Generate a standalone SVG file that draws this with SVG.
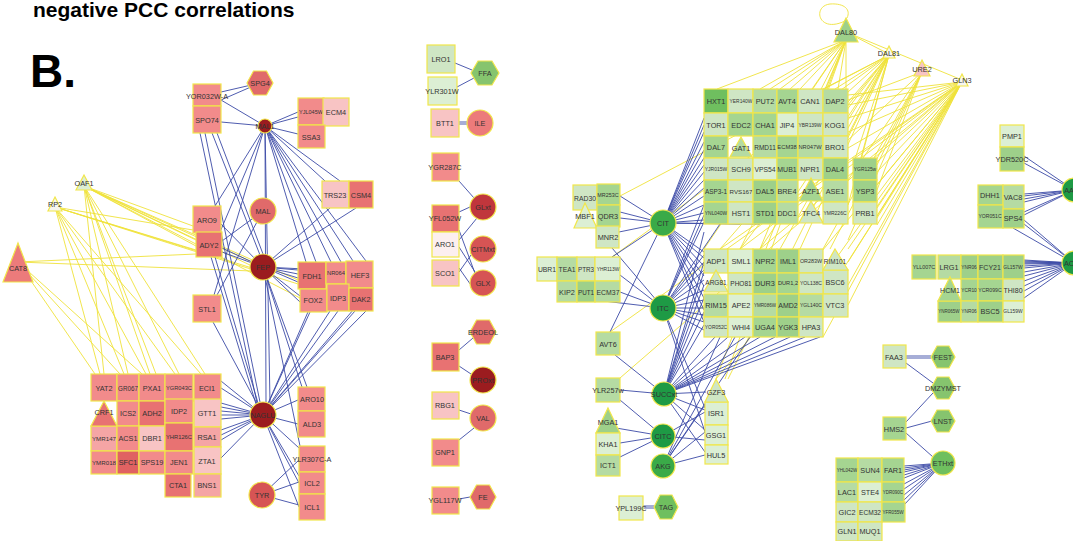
<svg xmlns="http://www.w3.org/2000/svg" width="1073" height="541" viewBox="0 0 1073 541">
<style>
text{font-family:"Liberation Sans",Arial,sans-serif;font-size:7.3px;fill:#333;text-anchor:middle;dominant-baseline:central}
.t1{font-size:21px;font-weight:bold;fill:#000;text-anchor:start;dominant-baseline:auto}
.t2{font-size:46px;font-weight:bold;fill:#000;text-anchor:start;dominant-baseline:auto}
.b{stroke:#3b4aa6;stroke-width:.9;fill:none}
.y{stroke:#efe23a;stroke-width:.9;fill:none}
.n rect,.n circle,.n polygon{stroke:#f1e64a;stroke-width:1.2}
.p1{fill:#f28b8b}.p2{fill:#e87272}.p3{fill:#f8c4c4}.p4{fill:#f5a5a5}.p5{fill:#fcefef}.p6{fill:#e06262}
.dr{fill:#9b1c1f}.r1{fill:#d65454}.r2{fill:#c0363c}.r3{fill:#e06a6a}.r4{fill:#ec7b7b}
.g1{fill:#cfe6c4}.g2{fill:#b5dba3}.g3{fill:#a5d591}.g4{fill:#9ed08a}.g5{fill:#6fbf5f}.g6{fill:#dcefd4}.g7{fill:#86c46e}.gc{fill:#1e9a45}.gm{fill:#3aaa48}.w{fill:#f6f6f0}
</style>
<rect width="1073" height="541" fill="#fff"/>
<text class="t1" x="33" y="17">negative PCC correlations</text>
<text class="t2" x="30" y="87">B.</text>

<g id="connectors">
<path class="y" d="M84,186 L252,262 M84,186 L252,266 M84,186 L298,280 M84,186 L300,298 M84,186 L196,240 M84,186 L196,246 M84,186 L193,226 M84,186 L104,374 M84,186 L128,374 M84,186 L150,374 M84,186 L156,374 M84,186 L179,374 M84,186 L205,374"/>
<path class="y" d="M55,207 L252,268 M55,207 L298,284 M55,207 L196,250 M55,207 L193,230 M55,207 L100,374 M55,207 L124,374 M55,207 L146,374 M55,207 L175,374 M55,207 L201,374"/>
<path class="y" d="M18,262 L196,254 M18,262 L252,271 M18,262 L95,374 M18,262 L120,374 M18,262 L142,374"/>
<path class="b" d="M260,83 L221,92 M260,83 L221,100"/>
<path class="b" d="M265,126 L221,100 M265,126 L221,122 M265,126 L298,112 M265,126 L298,117 M265,126 L298,134 M265,126 L325,181 M265,126 L340,181 M265,126 L306,262 M265,126 L316,262 M265,126 L331,262 M265,126 L341,262 M265,126 L353,261 M265,126 L366,261 M265,126 L215,206 M265,126 L220,232 M265,126 L214,295 M265,126 L266,402 M265,126 L270,403"/>
<path class="b" d="M212,133 L260,255 M217,133 L263,254 M200,133 L257,403 M205,133 L260,402 M211,257 L256,404 M215,257 L258,403 M263,211 L222,241 M263,211 L217,295"/>
<path class="b" d="M263,267 L221,224 M263,267 L222,248 M263,267 L222,252 M263,267 L298,270 M263,267 L298,274 M263,267 L298,278 M263,267 L298,282 M263,267 L300,296 M263,267 L300,302 M263,267 L326,270 M263,267 L330,208 M263,267 L356,208 M263,267 L302,387 M263,267 L307,387 M263,267 L300,446"/>
<path class="b" d="M263,415 L221,381 M263,415 L221,388 M263,415 L221,403 M263,415 L221,407 M263,415 L221,411 M263,415 L221,415 M263,415 L221,419 M263,415 L221,430 M263,415 L221,435 M263,415 L221,440 M263,415 L221,458 M263,415 L298,400 M263,415 L298,424 M263,415 L299,448 M263,415 L299,476 M263,415 L299,483 M263,415 L299,507 M263,415 L213,322 M263,415 L310,312 M263,415 L330,311 M263,415 L338,311 M263,415 L355,311 M263,415 L366,311 M263,415 L372,288 M263,415 L318,289"/>
<path class="b" d="M262,495 L299,460 M262,495 L299,482 M262,495 L299,505"/>
<path class="b" d="M455,63 L472,70 M457,87 L474,78 M459,122 L467,122 M459,124 L467,124 M459,181 L474,198 M459,212 L470,207 M459,240 L477,218 M459,247 L477,275 M459,230 L476,276 M459,272 L471,255 M459,268 L473,288 M459,350 L473,338 M459,366 L471,374 M459,410 L471,414 M459,440 L474,428 M459,499 L470,497"/>
<path class="y" d="M846,32 L885,52 M846,32 L962,80"/>
<path class="y" d="M845,21 C818,34 812,6 830,4 C845,3 851,10 847,18"/>
<path class="y" d="M846,40 L717,89 M846,40 L760,89 M846,40 L770,89 M846,40 L780,89 M846,40 L790,89 M846,40 L800,89 M846,40 L812,89 M846,40 L825,89 M846,40 L838,89 M846,40 L846,89 M846,40 L716,379 M846,40 L725,379 M846,40 L740,249 M846,40 L760,249 M846,40 L704,249"/>
<path class="y" d="M889,55 L823,89 M889,55 L835,89 M889,55 L848,92 M889,55 L848,105 M889,55 L848,120 M889,55 L848,135 M889,55 L853,165 M889,55 L853,190 M889,55 L848,205 M889,55 L800,249 M889,55 L780,249 M889,55 L760,249 M889,55 L740,249 M889,55 L720,249 M889,55 L620,196 M889,55 L728,379 M889,55 L612,257"/>
<path class="y" d="M922,72 L848,100 M922,72 L848,140 M922,72 L877,165 M922,72 L877,190 M922,72 L848,240 M922,72 L830,249 M922,72 L848,180 M922,72 L800,290"/>
<path class="y" d="M962,82 L848,95 M962,82 L848,105 M962,82 L848,118 M962,82 L848,132 M962,82 L848,148 M962,82 L877,162 M962,82 L877,172 M962,82 L877,185 M962,82 L877,195 M962,82 L877,208 M962,82 L877,218 M962,82 L877,225 M962,82 L848,249 M962,82 L848,262 M962,82 L848,285 M962,82 L848,305 M962,82 L823,337 M962,82 L800,337 M962,82 L780,337 M962,82 L760,249 M962,82 L740,249 M962,82 L720,249 M962,82 L620,378 M962,82 L610,332 M962,82 L716,379"/>
<path class="b" d="M663,223 L704,118 M663,223 L704,125 M663,223 L704,132 M663,223 L704,142 M663,223 L704,150 M663,223 L704,158 M663,223 L704,165 M663,223 L704,172 M663,223 L704,180 M663,223 L704,188 M663,223 L704,196 M663,223 L704,205 M663,223 L704,213 M663,223 L704,220 M663,223 L740,224 M663,223 L760,224 M663,223 L704,252 M663,223 L704,258 M663,223 L704,266 M663,223 L704,276 M663,223 L704,286 M663,223 L704,298 M663,223 L704,310 M663,223 L704,322 M663,223 L620,196 M663,223 L620,212 M663,223 L620,218 M663,223 L619,232 M663,223 L612,257 M663,223 L610,332"/>
<path class="b" d="M663,308 L704,205 M663,308 L704,215 M663,308 L704,222 M663,308 L720,224 M663,308 L704,255 M663,308 L704,262 M663,308 L704,270 M663,308 L704,280 M663,308 L704,290 M663,308 L704,300 M663,308 L704,308 M663,308 L704,315 M663,308 L704,322 M663,308 L704,330 M663,308 L620,292 M663,308 L620,275 M663,308 L612,248 M663,308 L595,300 M663,308 L705,408 M663,308 L705,432"/>
<path class="b" d="M664,394 L704,262 M664,394 L704,272 M664,394 L704,285 M664,394 L704,298 M664,394 L704,312 M664,394 L704,325 M664,394 L715,337 M664,394 L728,337 M664,394 L745,337 M664,394 L760,337 M664,394 L775,337 M664,394 L790,337 M664,394 L805,337 M664,394 L820,337 M664,394 L704,232 M664,394 L706,392 M664,394 L705,410 M664,394 L705,430 M664,394 L705,452 M664,394 L620,390 M664,394 L615,355"/>
<path class="b" d="M663,436 L616,428 M663,436 L620,443 M663,436 L620,457 M663,436 L620,400 M663,436 L705,412 M663,436 L705,440"/>
<path class="b" d="M663,466 L705,405 M663,466 L705,432 M663,466 L705,455 M663,466 L720,337 M663,466 L735,337 M663,466 L750,337"/>
<path class="b" d="M643,506 L654,506 M643,508 L654,508"/>
<path class="b" d="M1074,190 L1024,156 M1074,190 L1024,163 M1074,190 L1024,194 M1074,190 L1024,196 M1074,190 L1024,199 M1074,190 L1024,202 M1074,190 L1024,212 M1074,190 L1024,215"/>
<path class="b" d="M1074,263 L1024,220 M1074,263 L1024,224 M1074,263 L1013,228 M1074,263 L1024,260 M1074,263 L1024,261 M1074,263 L1024,262 M1074,263 L1024,263 M1074,263 L1024,264 M1074,263 L1024,266 M1074,263 L1024,268 M1074,263 L1024,272 M1074,263 L1024,276 M1074,263 L1024,281 M1074,263 L1024,286 M1074,263 L1024,291 M1074,263 L1024,298"/>
<path class="b" d="M943,463 L904,466 M943,463 L904,468 M943,463 L904,470 M943,463 L904,472 M943,463 L904,475 M943,463 L904,478 M943,463 L904,484 M943,463 L904,489 M943,463 L904,495 M943,463 L904,500 M943,463 L904,505"/>
<path class="b" d="M906,422 L933,393 M906,428 L932,421 M906,433 L933,457 M906,356 L931,356 M906,358 L931,358 M906,363 L933,383"/>
</g>

<g class="n">
<g id="OAF1"><polygon class="g6" points="84,175 92,190 76,190"/><text x="84" y="183">OAF1</text></g>
<g id="RP2"><polygon class="w" points="55,197 62,211 48,211"/><text x="55" y="204">RP2</text></g>
<g id="CAT8"><polygon class="r4" points="18,243 33,282 3,282"/><text x="18" y="268">CAT8</text></g>
<g id="SPG4"><polygon class="r3" points="247,83 253.5,71 266.5,71 273,83 266.5,95 253.5,95"/><text x="260" y="83">SPG4</text></g>
<g id="YOR032W-A"><rect class="p1" x="193" y="84" width="28" height="22"/><text x="207" y="96">YOR032W-A</text></g>
<g id="SPO74"><rect class="p1" x="193" y="106" width="28" height="27"/><text x="207" y="120">SPO74</text></g>
<g id="MAL1"><circle class="dr" cx="265" cy="126" r="7"/><text x="265" y="126">MAL1</text></g>
<g id="YJL045W"><rect class="p1" x="298" y="98" width="26" height="27"/><text x="311" y="112" style="font-size:5.5px">YJL045W</text></g>
<g id="ECM4"><rect class="p3" x="323" y="98" width="26" height="28"/><text x="336" y="112">ECM4</text></g>
<g id="SSA3"><rect class="p1" x="298" y="125" width="27" height="23"/><text x="311" y="137">SSA3</text></g>
<g id="TRS23"><rect class="p3" x="322" y="181" width="27" height="27"/><text x="335" y="195">TRS23</text></g>
<g id="CSM4"><rect class="p2" x="349" y="181" width="24" height="27"/><text x="361" y="195">CSM4</text></g>
<g id="MAL"><circle class="r3" cx="263" cy="211" r="13"/><text x="263" y="211">MAL</text></g>
<g id="ARO9"><rect class="p1" x="193" y="206" width="28" height="27"/><text x="207" y="220">ARO9</text></g>
<g id="ADY2"><rect class="p2" x="196" y="232" width="26" height="25"/><text x="209" y="245">ADY2</text></g>
<g id="FEP"><circle class="dr" cx="263" cy="267" r="13"/><text x="263" y="267">FEP</text></g>
<g id="FDH1"><rect class="p2" x="298" y="262" width="28" height="27"/><text x="312" y="276">FDH1</text></g>
<g id="NR064"><rect class="p1" x="326" y="262" width="20" height="22"/><text x="336" y="273" style="font-size:5.8px">NR064</text></g>
<g id="HEF3"><rect class="p1" x="346" y="261" width="27" height="27"/><text x="360" y="275">HEF3</text></g>
<g id="FOX2"><rect class="p1" x="300" y="289" width="27" height="23"/><text x="313" y="300">FOX2</text></g>
<g id="IDP3"><rect class="p1" x="327" y="284" width="22" height="27"/><text x="338" y="298">IDP3</text></g>
<g id="DAK2"><rect class="p2" x="349" y="288" width="24" height="23"/><text x="361" y="299">DAK2</text></g>
<g id="STL1"><rect class="p1" x="193" y="295" width="28" height="27"/><text x="207" y="309">STL1</text></g>
<g id="NAGLU"><circle class="dr" cx="263" cy="415" r="13"/><text x="263" y="415">NAGLU</text></g>
<g id="TYR"><circle class="r1" cx="262" cy="495" r="13"/><text x="262" y="495">TYR</text></g>
<g id="ARO10"><rect class="p1" x="298" y="387" width="27" height="24"/><text x="312" y="399">ARO10</text></g>
<g id="ALD3"><rect class="p1" x="298" y="411" width="27" height="26"/><text x="312" y="424">ALD3</text></g>
<g id="YLR307C-A"><rect class="p1" x="299" y="446" width="26" height="26"/><text x="312" y="459">YLR307C-A</text></g>
<g id="ICL2"><rect class="p1" x="299" y="472" width="26" height="22"/><text x="312" y="483">ICL2</text></g>
<g id="ICL1"><rect class="p1" x="299" y="494" width="26" height="26"/><text x="312" y="507">ICL1</text></g>
<g id="YAT2"><rect class="p1" x="91" y="374" width="26" height="27"/><text x="104" y="388">YAT2</text></g>
<g id="GR067"><rect class="p1" x="117" y="374" width="22" height="27"/><text x="128" y="388" style="font-size:6.3px">GR067</text></g>
<g id="PXA1"><rect class="p1" x="139" y="374" width="26" height="27"/><text x="152" y="388">PXA1</text></g>
<g id="YGR043C"><rect class="p1" x="165" y="374" width="28" height="27"/><text x="179" y="388" style="font-size:5.7px">YGR043C</text></g>
<g id="ECI1"><rect class="p1" x="194" y="374" width="27" height="27"/><text x="207" y="388">ECI1</text></g>
<g id="ICS2"><rect class="p1" x="117" y="401" width="22" height="25"/><text x="128" y="413">ICS2</text></g>
<g id="ADH2"><rect class="p2" x="139" y="401" width="26" height="25"/><text x="152" y="413">ADH2</text></g>
<g id="IDP2"><rect class="p1" x="165" y="399" width="28" height="24"/><text x="179" y="411">IDP2</text></g>
<g id="GTT1"><rect class="p3" x="194" y="399" width="27" height="28"/><text x="207" y="413">GTT1</text></g>
<g id="YMR147"><rect class="p4" x="91" y="426" width="26" height="25"/><text x="104" y="438" style="font-size:6.2px">YMR147</text></g>
<g id="CRF1"><polygon class="p2" points="104,401 117,426 91,426"/><text x="104" y="412">CRF1</text></g>
<g id="ACS1"><rect class="p1" x="117" y="426" width="22" height="25"/><text x="128" y="438">ACS1</text></g>
<g id="DBR1"><rect class="p3" x="139" y="426" width="26" height="25"/><text x="152" y="438">DBR1</text></g>
<g id="YHR126C"><rect class="p2" x="165" y="423" width="28" height="28"/><text x="179" y="437" style="font-size:5.8px">YHR126C</text></g>
<g id="RSA1"><rect class="p4" x="194" y="427" width="27" height="20"/><text x="207" y="437">RSA1</text></g>
<g id="YMR018"><rect class="p1" x="91" y="451" width="26" height="23"/><text x="104" y="462" style="font-size:6.2px">YMR018</text></g>
<g id="SFC1"><rect class="p6" x="117" y="451" width="22" height="23"/><text x="128" y="462">SFC1</text></g>
<g id="SPS19"><rect class="p1" x="139" y="451" width="26" height="23"/><text x="152" y="462">SPS19</text></g>
<g id="JEN1"><rect class="p1" x="165" y="451" width="28" height="23"/><text x="179" y="462">JEN1</text></g>
<g id="ZTA1"><rect class="p3" x="194" y="447" width="27" height="27"/><text x="207" y="461">ZTA1</text></g>
<g id="CTA1"><rect class="p2" x="165" y="474" width="26" height="23"/><text x="178" y="485">CTA1</text></g>
<g id="BNS1"><rect class="p4" x="194" y="474" width="27" height="23"/><text x="207" y="485">BNS1</text></g>

<g id="LRO1"><rect class="g1" x="427" y="45" width="28" height="28"/><text x="441" y="59">LRO1</text></g>
<g id="FFA"><polygon class="g7" points="471,73 478,61 492,61 499,73 492,85 478,85"/><text x="485" y="73">FFA</text></g>
<g id="YLR301W"><rect class="g6" x="428" y="77" width="29" height="28"/><text x="442" y="91">YLR301W</text></g>
<g id="BTT1"><rect class="p3" x="431" y="109" width="28" height="28"/><text x="445" y="123">BTT1</text></g>
<g id="ILE"><circle class="r4" cx="480" cy="123" r="13"/><text x="480" y="123">ILE</text></g>
<g id="YGR287C"><rect class="p1" x="432" y="153" width="27" height="28"/><text x="445" y="167">YGR287C</text></g>
<g id="GLxt"><circle class="r2" cx="483" cy="207" r="13"/><text x="483" y="207">GLxt</text></g>
<g id="YFL052W"><rect class="p2" x="432" y="205" width="27" height="27"/><text x="445" y="218">YFL052W</text></g>
<g id="ARO1"><rect class="p5" x="432" y="232" width="27" height="25"/><text x="445" y="244">ARO1</text></g>
<g id="CITMxt"><circle class="r1" cx="483" cy="249" r="13"/><text x="483" y="249">CITMxt</text></g>
<g id="SCO1"><rect class="p3" x="432" y="260" width="27" height="26"/><text x="445" y="273">SCO1</text></g>
<g id="GLX"><circle class="r1" cx="483" cy="283" r="13"/><text x="483" y="283">GLX</text></g>
<g id="ERDEOL"><polygon class="r3" points="470,332 476.5,320 489.5,320 496,332 489.5,344 476.5,344"/><text x="483" y="332">ERDEOL</text></g>
<g id="BAP3"><rect class="p2" x="432" y="343" width="27" height="28"/><text x="445" y="357">BAP3</text></g>
<g id="PROxt"><circle class="dr" cx="483" cy="380" r="13"/><text x="483" y="380">PROxt</text></g>
<g id="RBG1"><rect class="p3" x="432" y="392" width="27" height="27"/><text x="445" y="405">RBG1</text></g>
<g id="VAL"><circle class="r3" cx="483" cy="418" r="13"/><text x="483" y="418">VAL</text></g>
<g id="GNP1"><rect class="p1" x="432" y="439" width="27" height="27"/><text x="445" y="452">GNP1</text></g>
<g id="YGL117W"><rect class="p1" x="432" y="487" width="27" height="27"/><text x="445" y="500">YGL117W</text></g>
<g id="FE"><polygon class="r3" points="470,497 476.5,485 489.5,485 496,497 489.5,509 476.5,509"/><text x="483" y="497">FE</text></g>

<g id="DAL80"><polygon class="g4" points="846,18 858,42 834,42"/><text x="846" y="32">DAL80</text></g>
<g id="DAL81"><polygon class="w" points="889,46 895,58 883,58"/><text x="889" y="53">DAL81</text></g>
<g id="URE2"><polygon class="p3" points="922,60 930,76 914,76"/><text x="922" y="69">URE2</text></g>
<g id="GLN3"><polygon class="w" points="962,74 968,86 956,86"/><text x="962" y="80">GLN3</text></g>

<g id="HXT1"><rect class="g5" x="704" y="89" width="24" height="24"/><text x="716" y="101">HXT1</text></g>
<g id="YER140W"><rect class="g1" x="728" y="89" width="25" height="24"/><text x="741" y="101" style="font-size:4.9px">YER140W</text></g>
<g id="PUT2"><rect class="g2" x="753" y="89" width="24" height="24"/><text x="765" y="101">PUT2</text></g>
<g id="AVT4"><rect class="g3" x="777" y="89" width="21" height="24"/><text x="787" y="101">AVT4</text></g>
<g id="CAN1"><rect class="g1" x="798" y="89" width="25" height="24"/><text x="810" y="101">CAN1</text></g>
<g id="DAP2"><rect class="g2" x="823" y="89" width="25" height="24"/><text x="835" y="101">DAP2</text></g>
<g id="TOR1"><rect class="g1" x="704" y="113" width="24" height="23"/><text x="716" y="125">TOR1</text></g>
<g id="EDC2"><rect class="g3" x="728" y="113" width="25" height="23"/><text x="741" y="125">EDC2</text></g>
<g id="CHA1"><rect class="g3" x="753" y="113" width="24" height="23"/><text x="765" y="125">CHA1</text></g>
<g id="JIP4"><rect class="g6" x="777" y="113" width="21" height="23"/><text x="787" y="125">JIP4</text></g>
<g id="YBR139W"><rect class="g1" x="798" y="113" width="25" height="23"/><text x="810" y="125" style="font-size:4.9px">YBR139W</text></g>
<g id="KOG1"><rect class="g1" x="823" y="113" width="25" height="23"/><text x="835" y="125">KOG1</text></g>
<g id="DAL7"><rect class="g3" x="704" y="136" width="24" height="22"/><text x="716" y="147">DAL7</text></g>
<g id="RMD11"><rect class="g2" x="753" y="136" width="24" height="22"/><text x="765" y="147" style="font-size:6.5px">RMD11</text></g>
<g id="GAT1"><polygon class="g2" points="741,137 752,157 730,157"/><text x="741" y="148">GAT1</text></g>
<g id="ECM38"><rect class="g3" x="777" y="136" width="21" height="22"/><text x="787" y="147" style="font-size:5.8px">ECM38</text></g>
<g id="NR047W"><rect class="g2" x="798" y="136" width="25" height="22"/><text x="810" y="147" style="font-size:5.7px">NR047W</text></g>
<g id="BRO1"><rect class="g1" x="823" y="136" width="25" height="22"/><text x="835" y="147">BRO1</text></g>
<g id="YJR015W"><rect class="g1" x="704" y="158" width="24" height="22"/><text x="716" y="169" style="font-size:5px">YJR015W</text></g>
<g id="SCH9"><rect class="g1" x="728" y="158" width="25" height="22"/><text x="741" y="169">SCH9</text></g>
<g id="VPS54"><rect class="g6" x="753" y="158" width="24" height="22"/><text x="765" y="169" style="font-size:6.8px">VPS54</text></g>
<g id="MUB1"><rect class="g3" x="777" y="158" width="21" height="22"/><text x="787" y="169" style="font-size:7px">MUB1</text></g>
<g id="NPR1"><rect class="g1" x="798" y="158" width="25" height="22"/><text x="810" y="169">NPR1</text></g>
<g id="DAL4"><rect class="g4" x="823" y="158" width="25" height="22"/><text x="835" y="169">DAL4</text></g>
<g id="YGR125w"><rect class="g4" x="853" y="158" width="24" height="22"/><text x="865" y="169" style="font-size:4.9px">YGR125w</text></g>
<g id="ASP3-1"><rect class="g3" x="704" y="180" width="24" height="22"/><text x="716" y="191" style="font-size:6.4px">ASP3-1</text></g>
<g id="RVS167"><rect class="g1" x="728" y="180" width="25" height="22"/><text x="741" y="191" style="font-size:6.2px">RVS167</text></g>
<g id="DAL5"><rect class="g4" x="753" y="180" width="24" height="22"/><text x="765" y="191">DAL5</text></g>
<g id="BRE4"><rect class="g2" x="777" y="180" width="21" height="22"/><text x="787" y="191">BRE4</text></g>
<g id="AZF1"><polygon class="g3" points="811,178 823,201 799,201"/><text x="811" y="191">AZF1</text></g>
<g id="ASE1"><rect class="g2" x="823" y="180" width="25" height="22"/><text x="835" y="191">ASE1</text></g>
<g id="YSP3"><rect class="g4" x="853" y="180" width="24" height="22"/><text x="865" y="191">YSP3</text></g>
<g id="YNL040W"><rect class="g3" x="704" y="202" width="24" height="22"/><text x="716" y="213" style="font-size:4.9px">YNL040W</text></g>
<g id="HST1"><rect class="g1" x="728" y="202" width="25" height="22"/><text x="741" y="213">HST1</text></g>
<g id="STD1"><rect class="g4" x="753" y="202" width="24" height="22"/><text x="765" y="213">STD1</text></g>
<g id="DDC1"><rect class="g2" x="777" y="202" width="21" height="22"/><text x="787" y="213" style="font-size:7px">DDC1</text></g>
<g id="TFC4"><polygon class="g1" points="811,201 823,223 799,223"/><text x="811" y="213">TFC4</text></g>
<g id="YMR226C"><rect class="g1" x="823" y="202" width="25" height="22"/><text x="835" y="213" style="font-size:5px">YMR226C</text></g>
<g id="PRB1"><rect class="g1" x="853" y="202" width="24" height="22"/><text x="865" y="213">PRB1</text></g>

<g id="RAD30"><rect class="g1" x="573" y="185" width="24" height="25"/><text x="585" y="198" style="font-size:6.8px">RAD30</text></g>
<g id="MBF1"><polygon class="g6" points="585,203 597,228 574,228"/><text x="585" y="216">MBF1</text></g>
<g id="MR253C"><rect class="g3" x="597" y="184" width="23" height="21"/><text x="608" y="195" style="font-size:5.4px">MR253C</text></g>
<g id="QDR3"><rect class="g3" x="597" y="205" width="23" height="22"/><text x="608" y="216">QDR3</text></g>
<g id="MNR2"><rect class="g1" x="596" y="226" width="23" height="22"/><text x="608" y="237">MNR2</text></g>
<g id="CIT"><circle class="gm" cx="663" cy="223" r="13"/><text x="663" y="223">CIT</text></g>
<g id="UBR1"><rect class="g6" x="537" y="257" width="20" height="24"/><text x="547" y="269" style="font-size:6.8px">UBR1</text></g>
<g id="TEA1"><rect class="g2" x="557" y="257" width="20" height="24"/><text x="567" y="269" style="font-size:6.8px">TEA1</text></g>
<g id="PTR3"><rect class="g1" x="577" y="257" width="18" height="24"/><text x="586" y="269" style="font-size:6.3px">PTR3</text></g>
<g id="YHR113W"><rect class="g6" x="595" y="257" width="25" height="24"/><text x="608" y="269" style="font-size:4.9px">YHR113W</text></g>
<g id="KIP2"><rect class="g2" x="557" y="281" width="20" height="21"/><text x="567" y="292">KIP2</text></g>
<g id="PUT1"><rect class="g4" x="577" y="281" width="18" height="21"/><text x="586" y="292" style="font-size:6.3px">PUT1</text></g>
<g id="ECM37"><rect class="g2" x="595" y="281" width="25" height="21"/><text x="608" y="292" style="font-size:6.9px">ECM37</text></g>
<g id="ITC"><circle class="gc" cx="663" cy="308" r="13"/><text x="663" y="308">ITC</text></g>
<g id="AVT6"><rect class="g2" x="596" y="332" width="24" height="23"/><text x="608" y="344">AVT6</text></g>
<g id="YLR257w"><rect class="g2" x="596" y="378" width="24" height="24"/><text x="608" y="390">YLR257w</text></g>
<g id="SUCCxt"><circle class="gc" cx="664" cy="394" r="12"/><text x="664" y="394">SUCCxt</text></g>
<g id="MGA1"><polygon class="g4" points="608,408 620,433 596,433"/><text x="608" y="422">MGA1</text></g>
<g id="KHA1"><rect class="g6" x="596" y="433" width="24" height="22"/><text x="608" y="444">KHA1</text></g>
<g id="ICT1"><rect class="g2" x="596" y="455" width="24" height="21"/><text x="608" y="465">ICT1</text></g>
<g id="CITC"><circle class="gc" cx="663" cy="436" r="12"/><text x="663" y="436">CITC</text></g>
<g id="AKG"><circle class="gm" cx="663" cy="466" r="12"/><text x="663" y="466">AKG</text></g>
<g id="YPL199C"><rect class="g6" x="619" y="496" width="24" height="24"/><text x="631" y="508">YPL199C</text></g>
<g id="TAG"><polygon class="g5" points="654,507 660,495 672,495 678,507 672,519 660,519"/><text x="666" y="507">TAG</text></g>

<g id="ADP1"><rect class="g1" x="704" y="249" width="24" height="24"/><text x="716" y="261">ADP1</text></g>
<g id="SML1"><rect class="g6" x="728" y="249" width="25" height="24"/><text x="741" y="261">SML1</text></g>
<g id="NPR2"><rect class="g3" x="753" y="249" width="24" height="24"/><text x="765" y="261">NPR2</text></g>
<g id="IML1"><rect class="g4" x="777" y="249" width="22" height="24"/><text x="788" y="261">IML1</text></g>
<g id="OR283W"><rect class="g1" x="799" y="249" width="24" height="24"/><text x="811" y="261" style="font-size:5.4px">OR283W</text></g>
<g id="BSC6"><rect class="g1" x="823" y="270" width="25" height="24"/><text x="835" y="282">BSC6</text></g>
<g id="RIM101"><polygon class="g1" points="835,249 848,270 823,270"/><text x="835" y="261" style="font-size:6.4px">RIM101</text></g>
<g id="PHO81"><rect class="g1" x="728" y="273" width="25" height="21"/><text x="741" y="283" style="font-size:6.5px">PHO81</text></g>
<g id="DUR3"><rect class="g4" x="753" y="273" width="24" height="21"/><text x="765" y="283">DUR3</text></g>
<g id="DUR1,2"><rect class="g3" x="777" y="273" width="22" height="21"/><text x="788" y="283" style="font-size:5.7px">DUR1,2</text></g>
<g id="YOL138C"><rect class="g1" x="799" y="273" width="24" height="21"/><text x="811" y="283" style="font-size:5px">YOL138C</text></g>
<g id="RIM15"><rect class="g2" x="704" y="294" width="24" height="23"/><text x="716" y="305">RIM15</text></g>
<g id="ARG81"><polygon class="g1" points="716,270 728,292 704,292"/><text x="716" y="282" style="font-size:6.5px">ARG81</text></g>
<g id="APE2"><rect class="g6" x="728" y="294" width="25" height="23"/><text x="741" y="305">APE2</text></g>
<g id="YMR086W"><rect class="g2" x="753" y="294" width="24" height="23"/><text x="765" y="305" style="font-size:4.6px">YMR086W</text></g>
<g id="AMD2"><rect class="g4" x="777" y="294" width="22" height="23"/><text x="788" y="305" style="font-size:7px">AMD2</text></g>
<g id="YGL140C"><rect class="g2" x="799" y="294" width="24" height="23"/><text x="811" y="305" style="font-size:5px">YGL140C</text></g>
<g id="VTC3"><rect class="g1" x="823" y="294" width="25" height="23"/><text x="835" y="305">VTC3</text></g>
<g id="YOR052C"><rect class="g1" x="704" y="317" width="24" height="20"/><text x="716" y="327" style="font-size:4.9px">YOR052C</text></g>
<g id="WHI4"><rect class="g6" x="728" y="317" width="25" height="20"/><text x="741" y="327">WHI4</text></g>
<g id="UGA4"><rect class="g3" x="753" y="317" width="24" height="20"/><text x="765" y="327">UGA4</text></g>
<g id="YGK3"><rect class="g4" x="777" y="317" width="22" height="20"/><text x="788" y="327">YGK3</text></g>
<g id="HPA3"><rect class="g1" x="799" y="317" width="24" height="20"/><text x="811" y="327">HPA3</text></g>
<g id="ISR1"><rect class="g6" x="705" y="402" width="23" height="23"/><text x="716" y="413">ISR1</text></g>
<g id="GSG1"><rect class="g6" x="705" y="425" width="23" height="20"/><text x="716" y="435">GSG1</text></g>
<g id="HUL5"><rect class="g6" x="705" y="445" width="23" height="19"/><text x="716" y="455">HUL5</text></g>
<g id="GZF3"><polygon class="g1" points="716,379 728,402 705,402"/><text x="716" y="392">GZF3</text></g>

<g id="PMP1"><rect class="g6" x="1000" y="125" width="24" height="22"/><text x="1012" y="136">PMP1</text></g>
<g id="YDR520C"><rect class="g4" x="1000" y="147" width="24" height="24"/><text x="1012" y="159">YDR520C</text></g>
<g id="DHH1"><rect class="g3" x="978" y="185" width="25" height="20"/><text x="990" y="195">DHH1</text></g>
<g id="VAC8"><rect class="g2" x="1003" y="185" width="21" height="24"/><text x="1013" y="197">VAC8</text></g>
<g id="YOR051C"><rect class="g3" x="978" y="205" width="25" height="23"/><text x="990" y="216" style="font-size:5.1px">YOR051C</text></g>
<g id="SPS4"><rect class="g4" x="1003" y="209" width="21" height="19"/><text x="1013" y="218">SPS4</text></g>
<g id="AA"><circle class="gc" cx="1074" cy="190" r="12"/><text x="1069" y="190">AA</text></g>
<g id="AC"><circle class="gc" cx="1074" cy="263" r="12"/><text x="1069" y="263">AC</text></g>
<g id="YLL007C"><rect class="g3" x="912" y="255" width="24" height="24"/><text x="924" y="267" style="font-size:5.4px">YLL007C</text></g>
<g id="LRG1"><rect class="g2" x="938" y="255" width="23" height="24"/><text x="949" y="267">LRG1</text></g>
<g id="YNR06a"><rect class="g4" x="961" y="255" width="17" height="24"/><text x="969" y="267" style="font-size:4.8px">YNR06</text></g>
<g id="FCY21"><rect class="g4" x="978" y="255" width="25" height="24"/><text x="990" y="267" style="font-size:7px">FCY21</text></g>
<g id="GL157W"><rect class="g4" x="1003" y="255" width="21" height="24"/><text x="1013" y="267" style="font-size:4.9px">GL157W</text></g>
<g id="YNR065W"><rect class="g4" x="938" y="301" width="23" height="21"/><text x="949" y="311" style="font-size:4.5px">YNR065W</text></g>
<g id="HCM1"><polygon class="g3" points="950,277 961,301 938,301"/><text x="950" y="290" style="font-size:7px">HCM1</text></g>
<g id="YCR10"><rect class="g3" x="961" y="279" width="17" height="22"/><text x="969" y="290" style="font-size:4.8px">YCR10</text></g>
<g id="YCR099C"><rect class="g3" x="978" y="279" width="25" height="22"/><text x="990" y="290" style="font-size:5.2px">YCR099C</text></g>
<g id="THI80"><rect class="g1" x="1003" y="279" width="21" height="22"/><text x="1013" y="290" style="font-size:7px">THI80</text></g>
<g id="YNR06b"><rect class="g2" x="961" y="301" width="17" height="21"/><text x="969" y="311" style="font-size:4.8px">YNR06</text></g>
<g id="BSC5"><rect class="g4" x="978" y="301" width="25" height="21"/><text x="990" y="311">BSC5</text></g>
<g id="GL159W"><rect class="g6" x="1003" y="301" width="21" height="21"/><text x="1013" y="311" style="font-size:4.9px">GL159W</text></g>

<g id="FAA3"><rect class="g1" x="883" y="345" width="23" height="23"/><text x="894" y="357">FAA3</text></g>
<g id="FEST"><polygon class="g7" points="931,357 937,346 949,346 955,357 949,368 937,368"/><text x="943" y="357">FEST</text></g>
<g id="DMZYMST"><polygon class="g7" points="931,388 937,377 949,377 955,388 949,399 937,399"/><text x="943" y="388">DMZYMST</text></g>
<g id="HMS2"><rect class="g3" x="883" y="417" width="23" height="23"/><text x="894" y="429">HMS2</text></g>
<g id="LNST"><polygon class="g7" points="931,421 937,410 949,410 955,421 949,432 937,432"/><text x="943" y="421">LNST</text></g>
<g id="ETHxt"><circle class="g5" cx="943" cy="463" r="12"/><text x="943" y="463">ETHxt</text></g>
<g id="YHL042W"><rect class="g3" x="836" y="458" width="22" height="24"/><text x="847" y="470" style="font-size:4.5px">YHL042W</text></g>
<g id="SUN4"><rect class="g2" x="858" y="458" width="24" height="24"/><text x="870" y="470">SUN4</text></g>
<g id="FAR1"><rect class="g3" x="882" y="458" width="22" height="24"/><text x="893" y="470">FAR1</text></g>
<g id="LAC1"><rect class="g2" x="836" y="482" width="22" height="20"/><text x="847" y="492">LAC1</text></g>
<g id="STE4"><rect class="g6" x="858" y="482" width="24" height="20"/><text x="870" y="492">STE4</text></g>
<g id="YDR090C"><rect class="g3" x="882" y="482" width="22" height="20"/><text x="893" y="492" style="font-size:4.5px">YDR090C</text></g>
<g id="GIC2"><rect class="g1" x="836" y="502" width="22" height="20"/><text x="847" y="512">GIC2</text></g>
<g id="ECM32"><rect class="g1" x="858" y="502" width="24" height="20"/><text x="870" y="512" style="font-size:6.6px">ECM32</text></g>
<g id="YFR055W"><rect class="g3" x="882" y="502" width="23" height="20"/><text x="893" y="512" style="font-size:4.6px">YFR055W</text></g>
<g id="GLN1"><rect class="g1" x="836" y="522" width="22" height="19"/><text x="847" y="531">GLN1</text></g>
<g id="MUQ1"><rect class="g1" x="858" y="522" width="24" height="19"/><text x="870" y="531">MUQ1</text></g>
</g>
</svg>
